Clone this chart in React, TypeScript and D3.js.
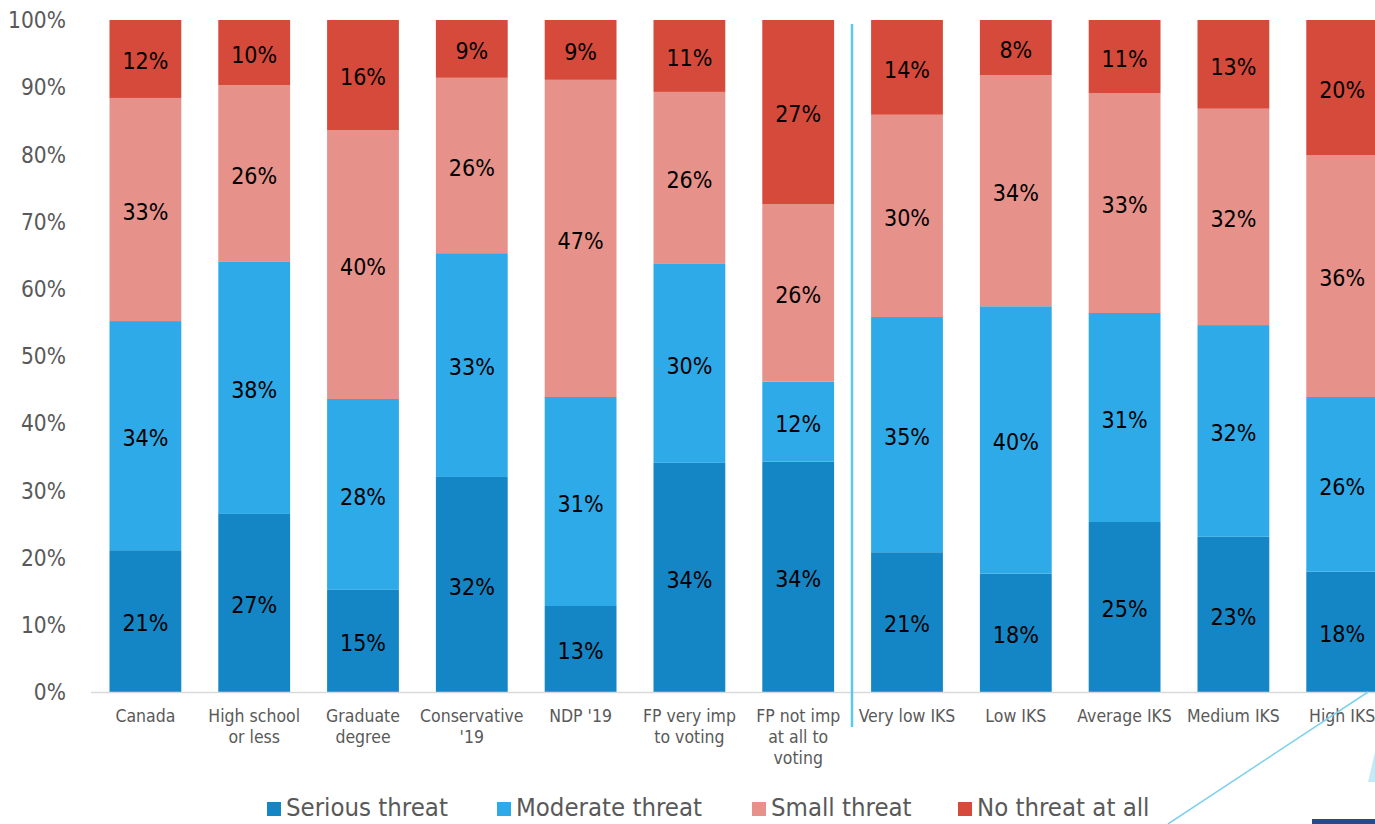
import React, { useEffect } from "react";
import * as d3 from "d3";

const categories = [
  "Canada",
  "High school\nor less",
  "Graduate\ndegree",
  "Conservative\n'19",
  "NDP '19",
  "FP very imp\nto voting",
  "FP not imp\nat all to\nvoting",
  "Very low IKS",
  "Low IKS",
  "Average IKS",
  "Medium IKS",
  "High IKS",
];
const serious = [21.1, 26.5, 15.2, 32.0, 12.8, 34.1, 34.3, 20.8, 17.6, 25.3, 23.1, 17.9];
const moderate = [34.1, 37.5, 28.4, 33.3, 31.1, 29.6, 11.9, 35.0, 39.8, 31.1, 31.5, 26.0];
const small = [33.2, 26.3, 40.0, 26.1, 47.2, 25.6, 26.4, 30.1, 34.4, 32.7, 32.2, 36.0];
const noThreat = [11.6, 9.7, 16.4, 8.6, 8.9, 10.7, 27.4, 14.1, 8.2, 10.9, 13.2, 20.1];
const seriesNames = ["Serious threat", "Moderate threat", "Small threat", "No threat at all"];
const seriesColors = ["#1586C5", "#2EAAE9", "#E6918A", "#D64A3C"];
const yTicks = [0, 10, 20, 30, 40, 50, 60, 70, 80, 90, 100];

const W = 1375;
const H = 824;
const FONT = "'DejaVu Sans Condensed', 'DejaVu Sans', sans-serif";

export default function App() {
  useEffect(() => {
    document.body.style.margin = "0";
  }, []);

  const rows = categories.map((c, i) => ({
    cat: c,
    s0: serious[i],
    s1: moderate[i],
    s2: small[i],
    s3: noThreat[i],
  }));
  const keys = ["s0", "s1", "s2", "s3"];
  const stacked = d3.stack<any>().keys(keys)(rows);

  const x = d3
    .scaleBand<string>()
    .domain(categories)
    .range([91, 1396.6])
    .paddingInner(0.34)
    .paddingOuter(0.17);
  const y = d3.scaleLinear().domain([0, 100]).range([692, 20]);
  const bw = x.bandwidth();

  const sepX = Math.round((x(categories[6])! + bw + x(categories[7])!) / 2) - 1;
  const legendX = [267, 497, 752, 958];

  return (
    <svg width={W} height={H} style={{ display: "block" }} fontFamily={FONT}>
      <rect width={W} height={H} fill="#fff" />
      {yTicks.map((t) => (
        <text
          key={t}
          x={66}
          y={y(t)}
          dy="0.36em"
          textAnchor="end"
          fontSize={22.5}
          fill="#595959"
        >
          {t}%
        </text>
      ))}
      {stacked.map((layer, li) => (
        <g key={li} fill={seriesColors[li]}>
          {layer.map((d, i) => (
            <rect
              key={i}
              x={x(categories[i])}
              y={y(d[1])}
              width={bw}
              height={y(d[0]) - y(d[1])}
            />
          ))}
        </g>
      ))}
      {stacked.map((layer, li) => (
        <g key={"l" + li}>
          {layer.map((d, i) => (
            <text
              key={i}
              x={x(categories[i])! + bw / 2}
              y={(y(d[0]) + y(d[1])) / 2 + 2}
              dy="0.36em"
              textAnchor="middle"
              fontSize={23}
              fill="#000"
            >
              {Math.round(d[1] - d[0])}%
            </text>
          ))}
        </g>
      ))}
      <line x1={91} x2={W} y1={692.5} y2={692.5} stroke="#D9D9D9" strokeWidth={1.5} />
      {categories.map((c, i) => (
        <text
          key={c}
          x={x(c)! + bw / 2}
          y={722}
          textAnchor="middle"
          fontSize={17.5}
          fill="#595959"
        >
          {c.split("\n").map((ln, k) => (
            <tspan key={k} x={x(c)! + bw / 2} dy={k === 0 ? 0 : 21}>
              {ln}
            </tspan>
          ))}
        </text>
      ))}
      <line x1={sepX} x2={sepX} y1={24} y2={727} stroke="#5BC8F0" strokeWidth={2.5} />
      <line x1={1368} y1={692} x2={1168} y2={824} stroke="#7DD0F0" strokeWidth={1.5} />
      <polygon points="1375,752 1375,782 1368,782" fill="#C5EAF7" />
      <rect x={1312} y={819} width={63} height={5} fill="#1F4E8C" />
      {seriesNames.map((n, i) => (
        <g key={n} transform={`translate(${legendX[i]},0)`}>
          <rect x={0} y={802} width={14} height={14} fill={seriesColors[i]} />
          <text x={19} y={816} fontSize={25.5} fill="#595959">
            {n}
          </text>
        </g>
      ))}
    </svg>
  );
}
